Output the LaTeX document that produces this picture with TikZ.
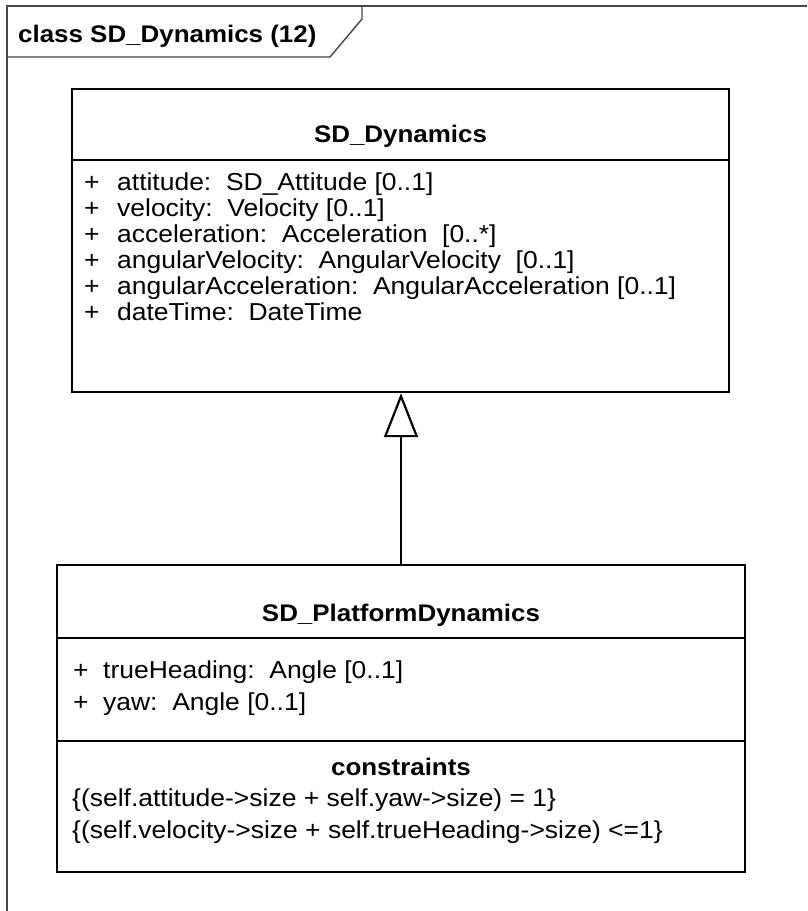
\documentclass[tikz,border=0pt]{standalone}
\usepackage{fontspec}
\setmainfont{Liberation Sans}[FakeStretch=1.08]
\usetikzlibrary{arrows.meta}
\newcommand\umltext{\fontsize{24.5}{26}\selectfont\frenchspacing}
\newcommand\umlbold{\fontsize{24}{26}\selectfont\bfseries}
\newcommand\plusbox[1]{\makebox[#1][l]{+}}
\begin{document}
\begin{tikzpicture}[x=1pt, y=-1pt,
  frameline/.style={draw=black!72, line width=1.4pt},
  classbox/.style={draw=black, line width=2.4pt, inner sep=0pt},
  sepline/.style={draw=black, line width=2.2pt},
  txt/.style={anchor=base west, inner sep=0pt, font=\umltext},
  ttl/.style={anchor=base, inner sep=0pt, font=\umlbold},
  gen/.style={draw=black, line width=2.2pt,
    -{Triangle[open, length=44pt, width=34pt, line width=2.2pt]}}]
\useasboundingbox (0,0) rectangle (807,911);

% diagram frame with its name tab
\draw[frameline] (7,911) -- (7,6) -- (807,6);
\draw[frameline] (7,57) -- (330,57) -- (362,19) -- (362,6);
\node[anchor=base west, inner sep=0pt, font=\umlbold] (frametitle) at (18,42) {class SD\_Dynamics (12)};

% class SD_Dynamics
\node[classbox, minimum width=657pt, minimum height=303pt] (upper) at (400.5,240.5) {};
\draw[sepline] (upper.west |- 0,160) -- (upper.east |- 0,160);
\node[ttl] (uname) at (400.5,142) {SD\_Dynamics};
\node[txt] (ua1) at (84,190) {\plusbox{33pt}attitude:~~SD\_Attitude [0..1]};
\node[txt] (ua2) at (84,216) {\plusbox{33pt}velocity:~~Velocity [0..1]};
\node[txt] (ua3) at (84,242) {\plusbox{33pt}acceleration:~~Acceleration~~[0..*]};
\node[txt] (ua4) at (84,268) {\plusbox{33pt}angularVelocity:~~AngularVelocity~~[0..1]};
\node[txt] (ua5) at (84,294) {\plusbox{33pt}angularAcceleration:~~AngularAcceleration [0..1]};
\node[txt] (ua6) at (84,320) {\plusbox{33pt}dateTime:~~DateTime};

% class SD_PlatformDynamics
\node[classbox, minimum width=688pt, minimum height=307pt] (lower) at (401,718.5) {};
\draw[sepline] (lower.west |- 0,638) -- (lower.east |- 0,638);
\draw[sepline] (lower.west |- 0,741) -- (lower.east |- 0,741);
\node[ttl] (lname) at (401,621) {SD\_PlatformDynamics};
\node[txt] (la1) at (73,678) {\plusbox{30pt}trueHeading:~~Angle [0..1]};
\node[txt] (la2) at (73,710) {\plusbox{30pt}yaw:~~Angle [0..1]};
\node[ttl] (cons) at (401,775) {constraints};
\node[txt] (lc1) at (72,806) {\{(self.attitude->size + self.yaw->size) = 1\}};
\node[txt] (lc2) at (72,838) {\{(self.velocity->size + self.trueHeading->size) <=1\}};

% generalization
\draw[gen] (lower.north) -- (lower.north |- upper.south);
\end{tikzpicture}
\end{document}
